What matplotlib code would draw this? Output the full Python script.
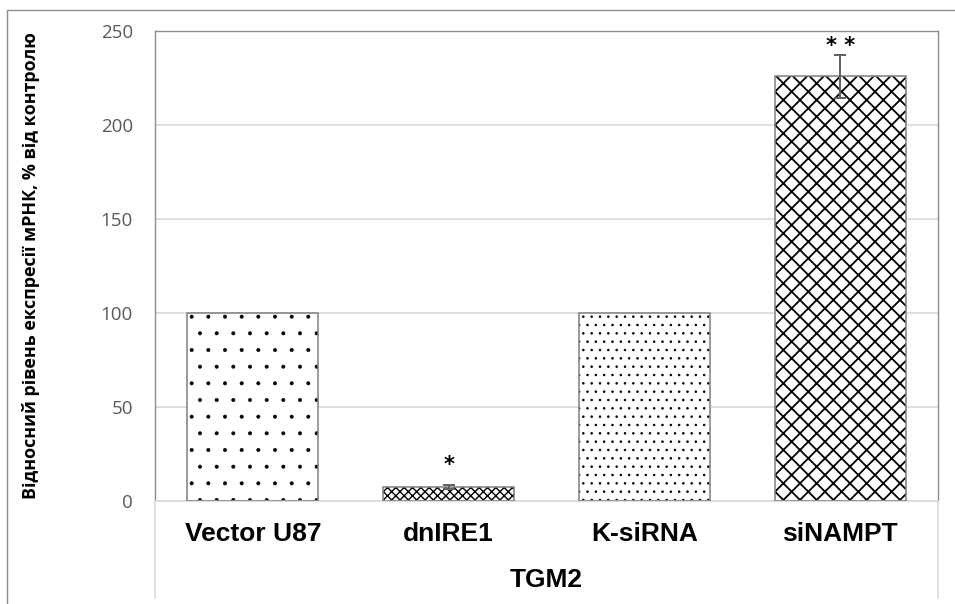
import matplotlib
matplotlib.use("Agg")
import matplotlib.pyplot as plt
from matplotlib.lines import Line2D
from matplotlib.patches import Rectangle

# values
categories = ["Vector U87", "dnIRE1", "K-siRNA", "siNAMPT"]
values = [100, 7.5, 100, 226]
errors = [0, 1.0, 0, 11.5]
stars = ["", "*", "", "**"]
group_label = "TGM2"
y_label = "Відносний рівень експресії мРНК, % від контролю"
y_ticks = [0, 50, 100, 150, 200, 250]

# look
hatches = [".", "xxxx", "..", "xx"]
hatch_lw = [0.4, 1.0, 0.6, 1.3]
star_offsets = [7, 7, 0, -1]   # points above the error cap

W, H = 955, 604
fig = plt.figure(figsize=(W / 100, H / 100), dpi=100)
left, right, top, bottom = 155, 938, 31, 501
ax = fig.add_axes([left / W, (H - bottom) / H, (right - left) / W, (bottom - top) / H])

pos = list(range(len(categories)))
for i in pos:
    # hatch in black, outline drawn separately in grey
    plt.rcParams["hatch.linewidth"] = hatch_lw[i]
    ax.bar(i, values[i], width=0.67, color="white", edgecolor="black",
           linewidth=0, hatch=hatches[i], zorder=2)
ax.bar(pos, values, width=0.67, fill=False, edgecolor="#7f7f7f", linewidth=1.1, zorder=3)

for i in pos:
    if errors[i] > 0:
        ax.errorbar(i, values[i], yerr=errors[i], fmt="none", ecolor="#5f5f5f",
                    elinewidth=1.4, capsize=4.5, capthick=1.4, zorder=4)
    if stars[i]:
        ax.annotate(" ".join(stars[i]), (i, values[i] + errors[i]), xytext=(0, star_offsets[i]),
                    textcoords="offset points", ha="center", va="bottom",
                    fontsize=15, fontweight="bold", family="DejaVu Sans", color="black", zorder=5)

ax.set_xlim(-0.5, len(categories) - 0.5)
ax.set_ylim(0, 250)
ax.set_yticks(y_ticks)
ax.set_yticklabels([str(t) for t in y_ticks], family="Open Sans", fontsize=13.5, color="#595959")
ax.set_xticks(pos)
ax.set_xticklabels(categories, family="Liberation Sans", fontweight="bold", fontsize=19)
ax.tick_params(axis="y", length=0, pad=16)
ax.tick_params(axis="x", length=0, pad=15)

ax.grid(axis="y", color="#d9d9d9", linewidth=1.2, zorder=0)
ax.set_axisbelow(True)
for s in ["left", "top", "right"]:
    ax.spines[s].set_color("#8c8c8c")
    ax.spines[s].set_linewidth(1.0)
ax.spines["bottom"].set_color("#d9d9d9")
ax.spines["bottom"].set_linewidth(1.2)

ax.set_ylabel(y_label, family="Open Sans", fontweight="bold", fontsize=12.9)
ax.yaxis.set_label_coords(-0.147, 0.5)

fig.text((left + right) / 2 / W, 1 - 580 / H, group_label, ha="center", va="center",
         family="Liberation Sans", fontweight="bold", fontsize=19)

# category-axis side lines below the plot area
for xp in [left, right]:
    fig.add_artist(Line2D([xp / W, xp / W], [(H - bottom) / H, (H - 598) / H],
                          transform=fig.transFigure, color="#d9d9d9", linewidth=1.2))

# outer chart frame (cut off at right and bottom)
fig.add_artist(Rectangle((7 / W, -0.1), 1.2, (H - 10) / H + 0.1, transform=fig.transFigure,
                         fill=False, edgecolor="#8c8c8c", linewidth=1.0))

fig.savefig("out.png", dpi=100)
